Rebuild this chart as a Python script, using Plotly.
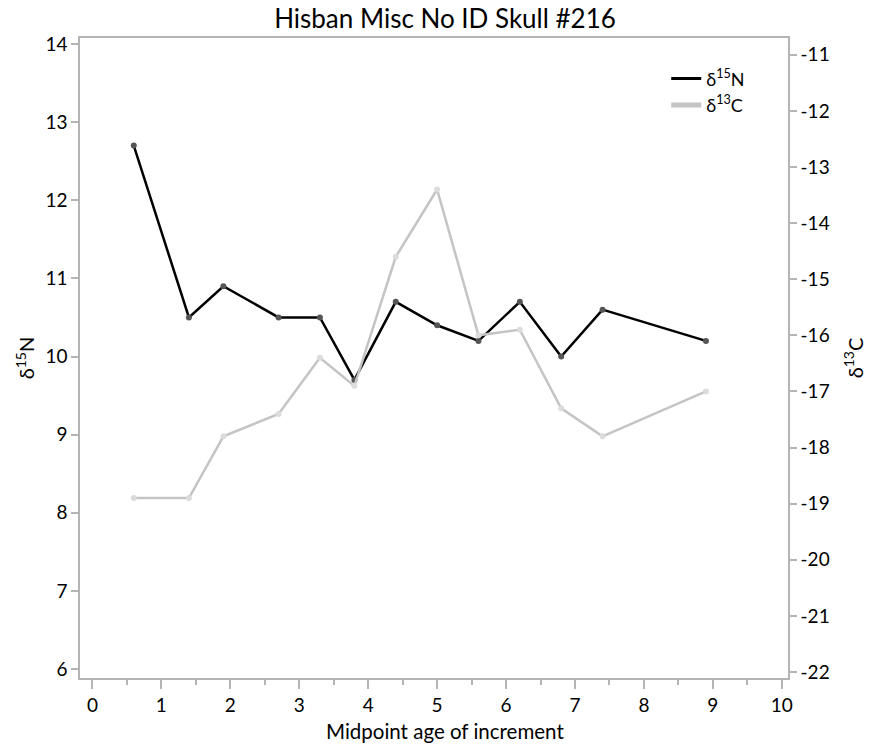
import plotly.graph_objects as go

age = [0.6, 1.4, 1.9, 2.7, 3.3, 3.8, 4.4, 5.0, 5.6, 6.2, 6.8, 7.4, 8.9]
d15N = [12.7, 10.5, 10.9, 10.5, 10.5, 9.7, 10.7, 10.4, 10.2, 10.7, 10.0, 10.6, 10.2]
d13C = [-18.9, -18.9, -17.8, -17.4, -16.4, -16.9, -14.6, -13.4, -16.0, -15.9, -17.3, -17.8, -17.0]
x_ticks = list(range(0, 11))
yN_ticks = list(range(6, 15))
yC_ticks = list(range(-22, -10))
yC_labels = ["-" + str(abs(v)) for v in yC_ticks]

FONT = "Lato"
AX = "#b4b4b4"

fig = go.Figure()
fig.add_trace(go.Scatter(x=age, y=d13C, yaxis="y2", mode="lines+markers",
                         line=dict(color="#c4c4c4", width=2.5),
                         marker=dict(color="#dcdcdc", size=6), showlegend=False))
fig.add_trace(go.Scatter(x=age, y=d15N, mode="lines+markers",
                         line=dict(color="black", width=2.5),
                         marker=dict(color="#555555", size=6), showlegend=False))
fig.add_trace(go.Scatter(x=[None], y=[None], mode="lines", name="δ<sup>15</sup>N",
                         line=dict(color="black", width=3)))
fig.add_trace(go.Scatter(x=[None], y=[None], mode="lines", name="δ<sup>13</sup>C",
                         line=dict(color="#c4c4c4", width=5)))

fig.update_layout(
    width=870, height=745,
    margin=dict(l=80, r=82, t=38, b=67),
    paper_bgcolor="white", plot_bgcolor="white",
    font=dict(family=FONT, size=19, color="black"),
    title=dict(text="Hisban Misc No ID Skull #216", x=(445 / 870), xanchor="center",
               y=0.9745, yanchor="middle", font=dict(size=26, family=FONT)),
    xaxis=dict(range=[-0.18, 10.09], tickvals=x_ticks, showgrid=False, zeroline=False,
               showline=True, linecolor=AX, linewidth=1.5, mirror=True, automargin=False,
               ticks="outside", ticklen=9, tickcolor=AX, tickwidth=1.5,
               minor=dict(dtick=0.5, ticks="outside", ticklen=5, tickcolor=AX, tickwidth=1.5)),
    yaxis=dict(range=[5.885, 14.077], tickvals=yN_ticks, showgrid=False, zeroline=False,
               showline=True, linecolor=AX, linewidth=1.5, automargin=False,
               ticks="outside", ticklen=7, tickcolor=AX, tickwidth=1.5,
               title=dict(text="δ<sup>15</sup>N", font=dict(size=20), standoff=5)),
    yaxis2=dict(range=[-22.107, -10.70], tickvals=yC_ticks, ticktext=yC_labels,
                overlaying="y", side="right", automargin=False,
                showgrid=False, zeroline=False, showline=True, linecolor=AX, linewidth=1.5,
                ticks="outside", ticklen=7, tickcolor=AX, tickwidth=1.5,
                title=dict(text="δ<sup>13</sup>C", font=dict(size=20), standoff=20)),
    legend=dict(x=0.828, y=0.965, xanchor="left", yanchor="top", bgcolor="rgba(0,0,0,0)",
                font=dict(size=18), itemwidth=30, tracegroupgap=0),
    annotations=[dict(text="Midpoint age of increment", xref="paper", yref="paper",
                      x=(445 - 80) / 708, y=(678 - 731) / 640, xanchor="center",
                      yanchor="middle", showarrow=False, font=dict(size=20.5))],
)

fig.write_html("out.html")
